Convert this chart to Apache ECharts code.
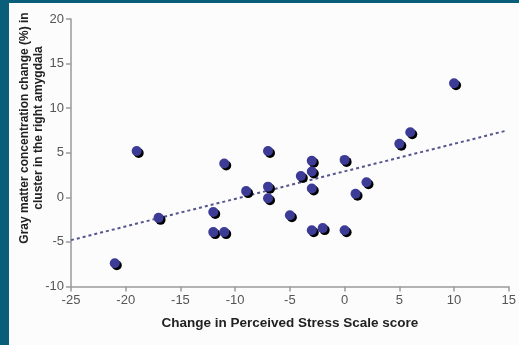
<!DOCTYPE html>
<html><head><meta charset="utf-8">
<script src="https://cdn.jsdelivr.net/npm/echarts@6/dist/echarts.min.js"></script>
<style>html,body{margin:0;padding:0;background:#0b5e79;}#c{width:519px;height:345px;}</style>
</head><body><div id="c"></div>
<script>
// Change in Perceived Stress Scale score (x) vs gray matter change (y)
const stressChange = [-21,-19,-17,-12,-12,-11,-11,-9,-7,-7,-7,-5,-4,-3,-3,-3,-3,-2,0,0,1,2,5,6,10];
const grayChange   = [-7.4,5.2,-2.3,-1.65,-3.9,-3.9,3.8,0.7,5.2,1.2,-0.1,-2.0,2.4,4.1,2.9,1.0,-3.7,-3.45,4.2,-3.7,0.4,1.7,6.0,7.3,12.8];
const trendX = [-25, 14.7];
const trendY = [-4.8, 7.45];
const xTicks = [-25,-20,-15,-10,-5,0,5,10,15];
const yTicks = [-10,-5,0,5,10,15,20];

const chart = echarts.init(document.getElementById('c'), null, {renderer:'canvas'});
const pts = stressChange.map((x,i)=>[x, grayChange[i]]);
const trend = trendX.map((x,i)=>[x, trendY[i]]);
const ff = '"Liberation Sans", Arial, sans-serif';
chart.setOption({
  backgroundColor: '#0b5e79',
  animation: false,
  graphic: [{type:'rect', z:-10, silent:true, shape:{x:9,y:3,width:510,height:342}, style:{fill:'#fcfcfc'}},
    {type:'text', z:10, x:32, y:128, rotation:Math.PI/2,
     style:{text:'Gray matter concentration change (%) in\ncluster in the right amygdala', align:'center', verticalAlign:'middle',
       font:'bold 12px ' + ff, fill:'#222', lineHeight:14}}],
  grid: {left:71, right:9, top:19, bottom:58.5, containLabel:false},
  xAxis: {type:'value', min:xTicks[0], max:xTicks[xTicks.length-1], interval:5,
    splitLine:{show:false},
    axisLine:{show:true, onZero:false, lineStyle:{color:'#9a9a9a', width:1.5}},
    axisTick:{show:true, length:5, lineStyle:{color:'#9a9a9a', width:1.5}},
    axisLabel:{color:'#555', fontSize:13, margin:7, fontFamily:ff},
    name:'Change in Perceived Stress Scale score', nameLocation:'middle', nameGap:30,
    nameTextStyle:{color:'#222', fontWeight:'bold', fontSize:13.5, fontFamily:ff}},
  yAxis: {type:'value', min:yTicks[0], max:yTicks[yTicks.length-1], interval:5,
    splitLine:{show:false},
    axisLine:{show:true, onZero:false, lineStyle:{color:'#9a9a9a', width:1.5}},
    axisTick:{show:true, length:5, lineStyle:{color:'#9a9a9a', width:1.5}},
    axisLabel:{color:'#555', fontSize:13, margin:7, fontFamily:ff}},
  series: [
    {type:'line', data:trend, symbol:'none', z:2,
     lineStyle:{color:'#55558f', width:2, type:[3,3]}},
    {type:'scatter', data:pts, symbolSize:10, z:3,
     itemStyle:{color:'#3c3c96', opacity:1, shadowColor:'#000', shadowBlur:0, shadowOffsetX:2, shadowOffsetY:2}}
  ]
});
</script></body></html>
